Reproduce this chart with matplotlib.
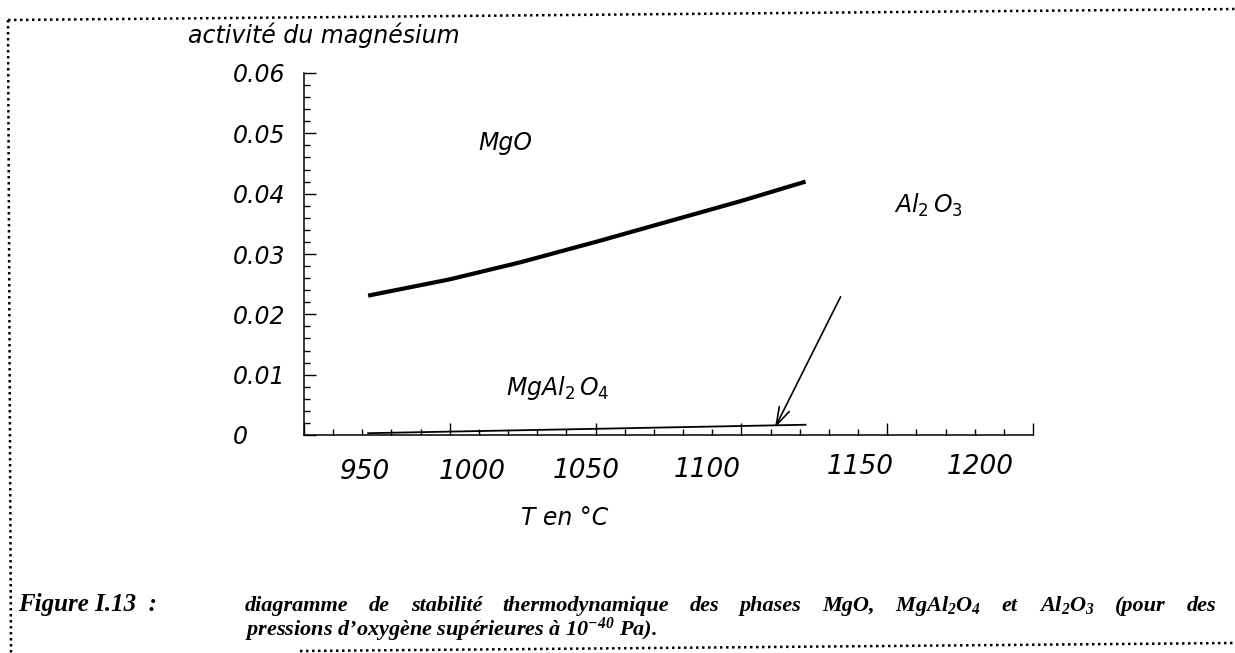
import matplotlib.pyplot as plt
from matplotlib.lines import Line2D
from matplotlib.ticker import MultipleLocator
import matplotlib.transforms as mtransforms

# values
temp_mgo = [972, 1000, 1024, 1050, 1075, 1100, 1122]
act_mgo = [0.0231, 0.0258, 0.0286, 0.0320, 0.0354, 0.0388, 0.0420]
temp_spinel = [972, 1122]
act_spinel = [0.0003, 0.0017]

x_ticks = [950, 1000, 1050, 1100, 1150, 1200]
y_ticks = [0, 0.01, 0.02, 0.03, 0.04, 0.05, 0.06]
y_ticklabels = ['0', '0.01', '0.02', '0.03', '0.04', '0.05', '0.06']

phase_names = ['MgO', r'$Al_{\mathit{2}}\,O_{\mathit{3}}$',
               r'$MgAl_{\mathit{2}}\,O_{\mathit{4}}$']
phase_T = [1019, 1164, 1037]
phase_a = [0.0484, 0.0381, 0.0078]

arrow_from = (1134, 0.0229)
arrow_to = (1111.5, 0.0012)

caption_head = 'Figure I.13  :'
caption_line1 = ('diagramme de stabilité thermodynamique des phases MgO, '
                 'MgAl$_2$O$_4$ et Al$_2$O$_3$ (pour des')
caption_line2 = "pressions d\u2019oxygène supérieures à 10$^{-40}$ Pa)."

# the scanned x labels drift away from their ticks (pixels)
x_label_dx = [61, 22, -9, -34, -27, -53]
x_label_dy = [0, 0, 1, 2, 5, 5]

plt.rcParams['mathtext.fontset'] = 'dejavusans'
plt.rcParams['mathtext.rm'] = 'Liberation Serif:bold:italic'
plt.rcParams['mathtext.it'] = 'Liberation Serif:bold:italic'
plt.rcParams['mathtext.bf'] = 'Liberation Serif:bold:italic'

W, H = 1235, 653
fig = plt.figure(figsize=(W / 100, H / 100), dpi=100)
ax = fig.add_axes([304 / W, 1 - 435 / H, (1033 - 304) / W, (435 - 73) / H])

ax.plot(temp_mgo, act_mgo, color='black', lw=3.0, solid_capstyle='butt')
ax.plot(temp_spinel, act_spinel, color='black', lw=1.3)

ax.set_xlim(950, 1200)
ax.set_ylim(0, 0.06)
for s in ['top', 'right']:
    ax.spines[s].set_visible(False)
for s in ['left', 'bottom']:
    ax.spines[s].set_linewidth(1.1)

ax.set_xticks(x_ticks)
ax.set_xticklabels([str(t) for t in x_ticks])
ax.xaxis.set_minor_locator(MultipleLocator(10))
ax.set_yticks(y_ticks)
ax.set_yticklabels(y_ticklabels)
ax.yaxis.set_minor_locator(MultipleLocator(0.002))

ax.tick_params(which='major', direction='in', length=8.5, width=1.0)
ax.tick_params(which='minor', direction='in', length=4.3, width=1.0)
ax.tick_params(axis='x', which='major', pad=17)
ax.tick_params(axis='y', which='major', pad=51)

for lab, dx, dy in zip(ax.get_xticklabels(), x_label_dx, x_label_dy):
    lab.set_fontsize(19)
    lab.set_fontstyle('italic')
    lab.set_transform(lab.get_transform() +
                      mtransforms.ScaledTranslation(dx / 100, dy / 100, fig.dpi_scale_trans))
for lab in ax.get_yticklabels():
    lab.set_fontsize(17)
    lab.set_fontstyle('italic')
    lab.set_horizontalalignment('left')

ax.set_xlabel('T en °C', fontsize=17, style='italic')
ax.xaxis.set_label_coords((565 - 304) / (1033 - 304), -(506 - 435) / (435 - 73))
fig.text(324 / W, 1 - 43 / H, 'activité du magnésium', fontsize=17,
         style='italic', ha='center', va='baseline')

for name, t, a in zip(phase_names, phase_T, phase_a):
    ax.text(t, a, name, fontsize=17, style='italic', ha='center', va='center',
            math_fontfamily='dejavusans')

ax.annotate('', xy=arrow_to, xytext=arrow_from,
            arrowprops=dict(arrowstyle='->,head_length=1.3,head_width=0.4',
                            lw=1.2, color='black', shrinkA=0, shrinkB=0))

# caption
cap = dict(family='Liberation Serif', weight='bold', style='italic', size=16,
           math_fontfamily='custom', va='baseline')
fig.text(18 / W, 1 - 611 / H, caption_head, **dict(cap, size=18))
fig.text(245 / W, 1 - 636 / H, caption_line2, **cap)

words = caption_line1.split(' ')
word_texts = [fig.text(0, 1 - 611 / H, w, **cap) for w in words]
fig.canvas.draw()
renderer = fig.canvas.get_renderer()
widths = [t.get_window_extent(renderer).width / fig.bbox.width for t in word_texts]
x0, x1 = 245 / W, 1216 / W
gap = (x1 - x0 - sum(widths)) / (len(words) - 1)
x = x0
for t, w in zip(word_texts, widths):
    t.set_x(x)
    x += w + gap

# dotted frame of the scanned page (the scan is slightly rotated)
dots = dict(color='black', lw=1.8, linestyle=(0, (1, 1.4)), transform=fig.transFigure)
fig.add_artist(Line2D([8 / W, 1], [1 - 20 / H, 1 - 9 / H], **dots))
fig.add_artist(Line2D([8 / W, 11 / W], [1 - 20 / H, 0], **dots))
fig.add_artist(Line2D([300 / W, 1], [1 - 651 / H, 1 - 643 / H], **dots))

fig.savefig('out.png', dpi=100, facecolor='white')
